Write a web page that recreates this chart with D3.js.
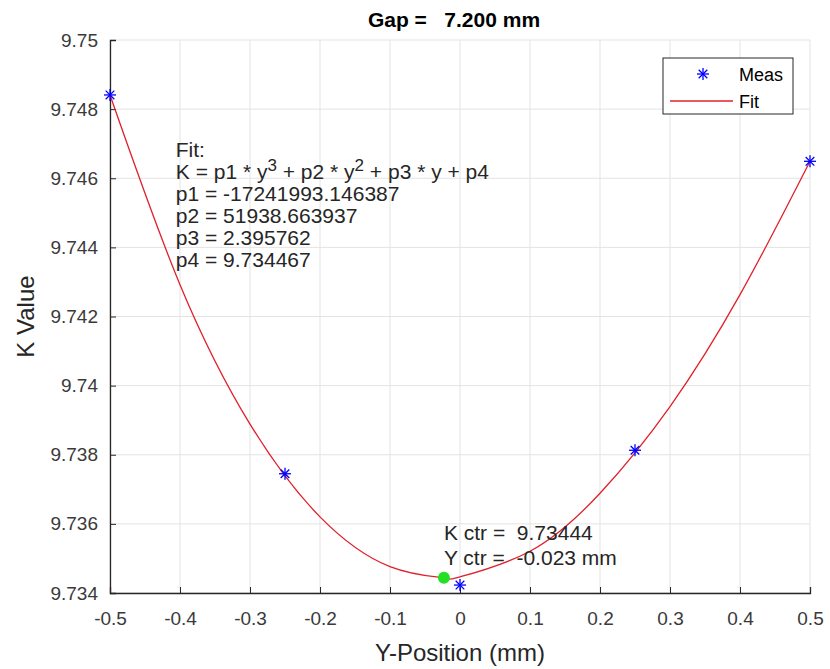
<!DOCTYPE html>
<html>
<head>
<meta charset="utf-8">
<script src="https://d3js.org/d3.v7.min.js"></script>
<style>
  body { margin: 0; background: #fff; }
  text { font-family: "Liberation Sans", Arial, sans-serif; white-space: pre; }
</style>
</head>
<body>
<script>
// measured points
var measX = [-0.5, -0.25, 0, 0.25, 0.5];
var measK = [9.74841, 9.73745, 9.73423, 9.73813, 9.74649];

// fit curve
var fitX = [-0.5, -0.4, -0.3, -0.2, -0.1, -0.023, 0, 0.1, 0.2, 0.3, 0.4, 0.5];
var fitK = [9.748409, 9.742922, 9.738888, 9.736203, 9.734764, 9.73444, 9.734467, 9.735209, 9.736886, 9.739395, 9.742632, 9.746494];

var center = { y: -0.023, k: 9.73444 };

var xTicks = [-0.5, -0.4, -0.3, -0.2, -0.1, 0, 0.1, 0.2, 0.3, 0.4, 0.5];
var yTicks = [9.734, 9.736, 9.738, 9.74, 9.742, 9.744, 9.746, 9.748, 9.75];

var fitLines = [
  "Fit:",
  "K = p1 * y^3 + p2 * y^2 + p3 * y + p4",
  "p1 = -17241993.146387",
  "p2 = 51938.663937",
  "p3 = 2.395762",
  "p4 = 9.734467"
];

const width = 830, height = 669;
const margin = { top: 40, right: 20, bottom: 76, left: 110 };
const iw = width - margin.left - margin.right;
const ih = height - margin.top - margin.bottom;

const svg = d3.select("body").append("svg")
  .attr("width", width).attr("height", height);
const g = svg.append("g").attr("transform", `translate(${margin.left},${margin.top})`);

const x = d3.scaleLinear().domain([-0.5, 0.5]).range([0, iw]);
const y = d3.scaleLinear().domain([9.734, 9.75]).range([ih, 0]);

// grid
g.append("g").selectAll("line").data(xTicks).join("line")
  .attr("x1", d => x(d)).attr("x2", d => x(d))
  .attr("y1", 0).attr("y2", ih)
  .attr("stroke", "#e3e3e3").attr("stroke-width", 1);
g.append("g").selectAll("line").data(yTicks).join("line")
  .attr("x1", 0).attr("x2", iw)
  .attr("y1", d => y(d)).attr("y2", d => y(d))
  .attr("stroke", "#e3e3e3").attr("stroke-width", 1);

// axes, ticks pointing inward like matlab
const xAxis = g.append("g").attr("transform", `translate(0,${ih})`)
  .call(d3.axisBottom(x).tickValues(xTicks).tickSize(-6).tickPadding(19)
    .tickFormat(d => d === 0 ? "0" : String(+d.toFixed(1))));
const yAxis = g.append("g")
  .call(d3.axisLeft(y).tickValues(yTicks).tickSize(-6).tickPadding(12)
    .tickFormat(d => String(+d.toFixed(3))));
[xAxis, yAxis].forEach(a => {
  a.select(".domain").attr("stroke", "#262626").attr("stroke-width", 1.3);
  a.selectAll(".tick line").attr("stroke", "#262626");
  a.selectAll(".tick text").attr("fill", "#3a3a3a")
    .style("font-size", "19px").style("font-family", "Liberation Sans, Arial, sans-serif");
});

// fit line
const line = d3.line().x(d => x(d[0])).y(d => y(d[1])).curve(d3.curveNatural);
g.append("path")
  .datum(fitX.map((v, i) => [v, fitK[i]]))
  .attr("d", line)
  .attr("fill", "none").attr("stroke", "#e0202a").attr("stroke-width", 1.3);

// asterisk marker
function star(sel, cx, cy, r) {
  const s = sel.append("g").attr("transform", `translate(${cx},${cy})`)
    .attr("stroke", "#0000ff").attr("stroke-width", 1.3);
  const d = r * 0.72;
  s.append("line").attr("x1", -r).attr("x2", r).attr("y1", 0).attr("y2", 0);
  s.append("line").attr("x1", 0).attr("x2", 0).attr("y1", -r).attr("y2", r);
  s.append("line").attr("x1", -d).attr("x2", d).attr("y1", -d).attr("y2", d);
  s.append("line").attr("x1", -d).attr("x2", d).attr("y1", d).attr("y2", -d);
}
measX.forEach((v, i) => star(g, x(v), y(measK[i]), 6));

// center point
g.append("circle")
  .attr("cx", x(center.y)).attr("cy", y(center.k)).attr("r", 6)
  .attr("fill", "#22e022");

// center labels
const ctr = g.append("text")
  .attr("x", x(center.y)).attr("y", y(center.k) - 38)
  .attr("fill", "#262626").style("font-size", "21px");
ctr.append("tspan").attr("x", x(center.y)).attr("dy", 0).text("K ctr =  " + center.k.toFixed(5));
ctr.append("tspan").attr("x", x(center.y)).attr("dy", 25).text("Y ctr =  " + center.y.toFixed(3) + " mm");

// fit annotation
const ann = g.append("text").attr("x", x(-0.406)).attr("y", 117)
  .attr("fill", "#262626").style("font-size", "21px");
fitLines.forEach((t, i) => {
  const ts = ann.append("tspan").attr("x", x(-0.406)).attr("dy", i === 0 ? 0 : 22);
  if (t.indexOf("^") < 0) { ts.text(t); return; }
  // split on superscripts
  const parts = t.split(/\^(\d)/);
  parts.forEach((p, j) => {
    if (j === 0) { ts.text(p); return; }
    if (j % 2 === 1) {
      ann.append("tspan").attr("dy", -8).style("font-size", "17px").text(p);
    } else {
      ann.append("tspan").attr("dy", 8).text(p);
    }
  });
});

// legend
const lg = svg.append("g").attr("transform", "translate(663,58)");
lg.append("rect").attr("width", 130).attr("height", 56)
  .attr("fill", "#fff").attr("stroke", "#262626").attr("stroke-width", 1);
star(lg, 40, 16, 6);
lg.append("line").attr("x1", 7).attr("x2", 70).attr("y1", 43).attr("y2", 43)
  .attr("stroke", "#e0202a").attr("stroke-width", 1.3);
lg.append("text").attr("x", 76).attr("y", 23).attr("fill", "#000")
  .style("font-size", "18px").text("Meas");
lg.append("text").attr("x", 76).attr("y", 50).attr("fill", "#000")
  .style("font-size", "18px").text("Fit");

// title and axis labels
svg.append("text").attr("x", margin.left + iw / 2 - 6).attr("y", 27)
  .attr("text-anchor", "middle").style("font-size", "21px").style("font-weight", "bold")
  .attr("fill", "#000")
  .text("Gap =   7.200 mm");
svg.append("text").attr("x", margin.left + iw / 2).attr("y", 661)
  .attr("text-anchor", "middle").style("font-size", "24px").attr("fill", "#262626")
  .text("Y-Position (mm)");
svg.append("text").attr("transform", `translate(34,${margin.top + ih / 2}) rotate(-90)`)
  .attr("text-anchor", "middle").style("font-size", "24px").attr("fill", "#262626")
  .text("K Value");
</script>
</body>
</html>
